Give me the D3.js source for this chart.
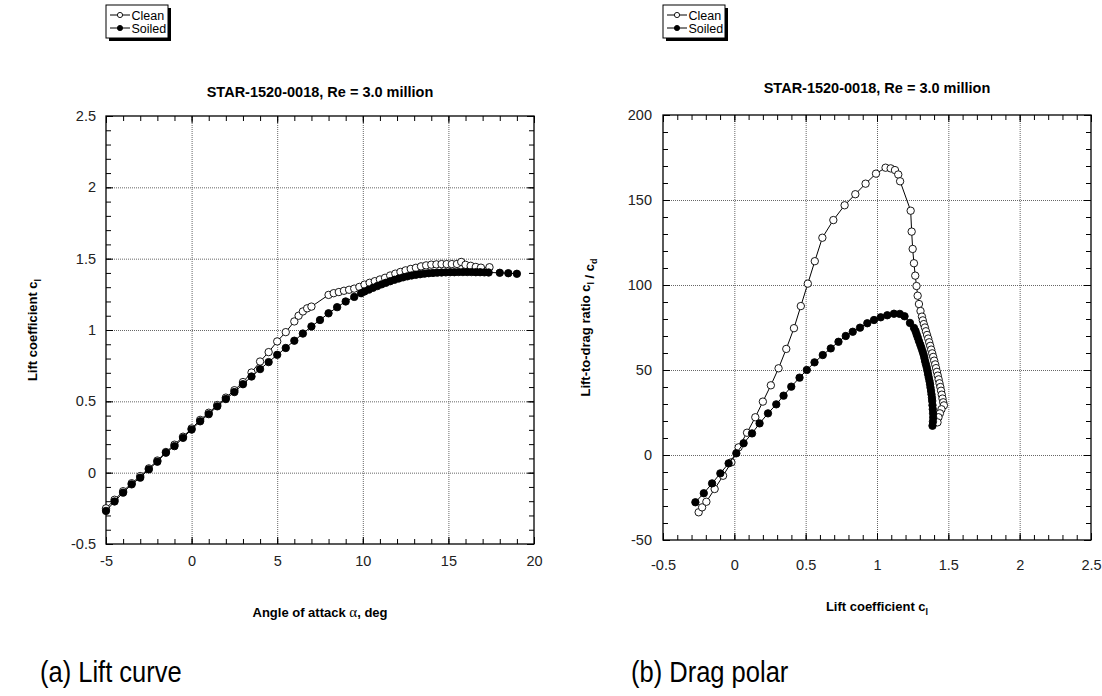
<!DOCTYPE html>
<html>
<head>
<meta charset="utf-8">
<script src="https://cdn.jsdelivr.net/npm/d3@7"></script>
<style>
body { margin: 0; background: #fff; }
text { font-family: "Liberation Sans", Arial, Helvetica, sans-serif; }
</style>
</head>
<body>
<script>
// Size of the whole picture
var width = 1102;
var height = 696;

// ---- Data ----
// (a) lift curve: [angle of attack, cl]
var liftClean = [
  [-5, -0.25], [-4.5, -0.19], [-4, -0.13], [-3.5, -0.074], [-3, -0.024], [-2.5, 0.03],
  [-2, 0.085], [-1.5, 0.145], [-1, 0.196], [-0.5, 0.252], [0, 0.31], [0.5, 0.37],
  [1, 0.42], [1.5, 0.474], [2, 0.526], [2.5, 0.578], [3, 0.635], [3.5, 0.702],
  [4, 0.779], [4.5, 0.845], [5, 0.92], [5.5, 0.985], [6, 1.06], [6.25, 1.1],
  [6.5, 1.13], [6.75, 1.152], [7, 1.164], [8, 1.246], [8.3, 1.258], [8.6, 1.266],
  [8.9, 1.275], [9.2, 1.282], [9.5, 1.29], [9.8, 1.302], [10.1, 1.318], [10.4, 1.331],
  [10.7, 1.342], [11, 1.354], [11.3, 1.366], [11.6, 1.382], [11.9, 1.395], [12.2, 1.407],
  [12.5, 1.418], [12.8, 1.428], [13.1, 1.436], [13.4, 1.446], [13.7, 1.453], [14, 1.458],
  [14.3, 1.46], [14.6, 1.462], [14.9, 1.462], [15.2, 1.462], [15.5, 1.463], [15.75, 1.477],
  [16, 1.457], [16.3, 1.45], [16.6, 1.442], [16.9, 1.437], [17.4, 1.44]
];
var liftSoiled = [
  [-5, -0.268], [-4.5, -0.202], [-4, -0.14], [-3.5, -0.082], [-3, -0.035], [-2.5, 0.023],
  [-2, 0.077], [-1.5, 0.14], [-1, 0.186], [-0.5, 0.244], [0, 0.302], [0.5, 0.36],
  [1, 0.41], [1.5, 0.465], [2, 0.516], [2.5, 0.565], [3, 0.62], [3.5, 0.674],
  [4, 0.726], [4.5, 0.775], [5, 0.826], [5.5, 0.874], [6, 0.925], [6.5, 0.975],
  [7, 1.025], [7.5, 1.07], [8, 1.117], [8.5, 1.16], [9, 1.2], [9.5, 1.232],
  [9.9, 1.258], [10.1, 1.27], [10.35, 1.283], [10.6, 1.296], [10.85, 1.308], [11.1, 1.32],
  [11.35, 1.331], [11.6, 1.342], [11.85, 1.352], [12.1, 1.361], [12.35, 1.369], [12.6, 1.376],
  [12.85, 1.382], [13.1, 1.387], [13.35, 1.391], [13.6, 1.395], [13.85, 1.398], [14.1, 1.4],
  [14.35, 1.402], [14.6, 1.403], [14.85, 1.404], [15.1, 1.405], [15.35, 1.405], [15.6, 1.406],
  [15.85, 1.406], [16.1, 1.406], [16.35, 1.406], [16.6, 1.405], [16.85, 1.405], [17.1, 1.404],
  [17.35, 1.403], [18, 1.401], [18.5, 1.398], [19, 1.394]
];

// (b) drag polar: [cl, cl/cd]
var polarClean = [
  [-0.25, -33.7], [-0.226, -30.8], [-0.196, -27.5], [-0.138, -20], [-0.079, -12.2], [-0.021, -4.3],
  [0.03, 4.5], [0.089, 13.1], [0.147, 22.2], [0.2, 31.4], [0.256, 41], [0.31, 51],
  [0.364, 62.4], [0.418, 74.6], [0.466, 87.6], [0.515, 100.8], [0.564, 114], [0.617, 127.8],
  [0.694, 138.2], [0.773, 146.9], [0.848, 153.4], [0.92, 159.6], [0.993, 165.5], [1.06, 169],
  [1.096, 168.6], [1.126, 167.6], [1.149, 165], [1.162, 161], [1.236, 143.7], [1.243, 131.4],
  [1.25, 121.2], [1.259, 112.8], [1.268, 105.5], [1.277, 99.4], [1.285, 93.7], [1.294, 88.8],
  [1.305, 84.7], [1.315, 81.4], [1.321, 79.2], [1.328, 77], [1.336, 75], [1.343, 72.8],
  [1.351, 70.6], [1.359, 68.5], [1.366, 66.3], [1.373, 64.2], [1.38, 62], [1.387, 59.8],
  [1.394, 57.7], [1.401, 55.5], [1.408, 53.3], [1.414, 51.1], [1.42, 48.9], [1.426, 46.7],
  [1.432, 44.5], [1.438, 42.2], [1.444, 40], [1.449, 37.8], [1.454, 35.5], [1.459, 33.2],
  [1.464, 31], [1.469, 29.2], [1.452, 26.9], [1.441, 24.5], [1.431, 22.2], [1.424, 19.2]
];
var polarSoiled = [
  [-0.273, -27.8], [-0.214, -22.5], [-0.156, -16.7], [-0.098, -10.8], [-0.04, -4.9], [0.014, 1],
  [0.065, 6.9], [0.124, 12.7], [0.177, 18.6], [0.236, 24.5], [0.294, 29.8], [0.345, 34.9],
  [0.399, 40.2], [0.457, 45.5], [0.508, 50], [0.562, 54.5], [0.62, 58.8], [0.676, 62.7],
  [0.73, 66.6], [0.781, 70], [0.83, 72.5], [0.881, 74.9], [0.932, 77.5], [0.979, 79.4],
  [1.026, 81], [1.072, 82.2], [1.119, 83.1], [1.16, 83], [1.193, 81.6], [1.231, 77.7],
  [1.259, 74.8], [1.27, 72.9], [1.278, 70.9], [1.286, 69], [1.294, 67], [1.303, 65],
  [1.311, 63.1], [1.319, 61.1], [1.326, 59.2], [1.332, 57.2], [1.337, 55.2], [1.343, 53.3],
  [1.349, 51.4], [1.354, 49.4], [1.358, 47.5], [1.363, 45.5], [1.368, 43.5], [1.372, 41.6],
  [1.375, 39.7], [1.379, 37.7], [1.382, 35.7], [1.385, 33.7], [1.387, 31.8], [1.389, 29.3],
  [1.391, 26.9], [1.393, 24.5], [1.394, 22.1], [1.392, 19.6], [1.389, 17.2]
];

// Tick values
var liftXTicks = [-5, 0, 5, 10, 15, 20];
var liftYTicks = [-0.5, 0, 0.5, 1, 1.5, 2, 2.5];
var polarXTicks = [-0.5, 0, 0.5, 1, 1.5, 2, 2.5];
var polarYTicks = [-50, 0, 50, 100, 150, 200];

var legendNames = ["Clean", "Soiled"];
var titleText = "STAR-1520-0018, Re = 3.0 million";

var svg = d3.select('body').append('svg')
  .attr('width', width)
  .attr('height', height);

// minor tick values between min and max with a given step
function minorTicks(lo, hi, step) {
  return d3.range(Math.round((hi - lo) / step) + 1).map(function (i) { return +(lo + i * step).toFixed(6); });
}

function styleAxis(sel, color) {
  sel.select('.domain').remove();
  sel.selectAll('line').attr('stroke', color || '#000');
}

function drawPanel(p) {
  var g = svg.append('g');
  var x = p.x, y = p.y;
  var xl = x.range()[0], xr = x.range()[1];
  var yb = y.range()[0], yt = y.range()[1];
  var w = xr - xl, h = yb - yt;

  // dotted grid at the inner major ticks
  var gx = g.append('g').attr('transform', 'translate(0,' + yb + ')')
    .call(d3.axisBottom(x).tickValues(p.xTicks.slice(1, -1)).tickSize(-h).tickFormat(''));
  var gy = g.append('g').attr('transform', 'translate(' + xl + ',0)')
    .call(d3.axisLeft(y).tickValues(p.yTicks.slice(1, -1)).tickSize(-w).tickFormat(''));
  [gx, gy].forEach(function (s) {
    styleAxis(s, '#666');
    s.selectAll('line').attr('stroke-dasharray', '1,1').attr('stroke-width', 1);
  });

  // minor ticks on all four sides, pointing inwards
  var xm = minorTicks(x.domain()[0], x.domain()[1], p.xMinor);
  var ym = minorTicks(y.domain()[0], y.domain()[1], p.yMinor);
  styleAxis(g.append('g').attr('transform', 'translate(0,' + yb + ')')
    .call(d3.axisBottom(x).tickValues(xm).tickSize(-5).tickFormat('')));
  styleAxis(g.append('g').attr('transform', 'translate(0,' + yt + ')')
    .call(d3.axisTop(x).tickValues(xm).tickSize(-5).tickFormat('')));
  styleAxis(g.append('g').attr('transform', 'translate(' + xl + ',0)')
    .call(d3.axisLeft(y).tickValues(ym).tickSize(-5).tickFormat('')));
  styleAxis(g.append('g').attr('transform', 'translate(' + xr + ',0)')
    .call(d3.axisRight(y).tickValues(ym).tickSize(-5).tickFormat('')));

  // major ticks with labels
  var ax = g.append('g').attr('transform', 'translate(0,' + yb + ')')
    .call(d3.axisBottom(x).tickValues(p.xTicks).tickSize(-7).tickPadding(p.xPad).tickFormat(String));
  var ay = g.append('g').attr('transform', 'translate(' + xl + ',0)')
    .call(d3.axisLeft(y).tickValues(p.yTicks).tickSize(-7).tickPadding(p.yPad).tickFormat(String));
  styleAxis(g.append('g').attr('transform', 'translate(0,' + yt + ')')
    .call(d3.axisTop(x).tickValues(p.xTicks).tickSize(-7).tickFormat('')));
  styleAxis(g.append('g').attr('transform', 'translate(' + xr + ',0)')
    .call(d3.axisRight(y).tickValues(p.yTicks).tickSize(-7).tickFormat('')));
  [ax, ay].forEach(function (s) {
    styleAxis(s);
    s.selectAll('text').attr('font-size', 14.5).attr('fill', '#222')
      .attr('font-family', '"Liberation Sans", Arial, sans-serif');
  });

  // frame
  g.append('rect')
    .attr('x', xl).attr('y', yt).attr('width', w).attr('height', h)
    .attr('fill', 'none').attr('stroke', '#000').attr('stroke-width', 1.3);

  // title
  g.append('text')
    .attr('x', (xl + xr) / 2).attr('y', p.titleY)
    .attr('text-anchor', 'middle').attr('font-weight', 'bold').attr('font-size', 14.5)
    .text(titleText);

  // axis titles
  var xt = g.append('text')
    .attr('x', (xl + xr) / 2).attr('y', p.xTitleY)
    .attr('text-anchor', 'middle').attr('font-weight', 'bold').attr('font-size', 13);
  p.xTitle(xt);
  var yt2 = g.append('text')
    .attr('transform', 'translate(' + p.yTitleX + ',' + (yt + yb) / 2 + ') rotate(-90)')
    .attr('text-anchor', 'middle').attr('font-weight', 'bold').attr('font-size', 13);
  p.yTitle(yt2);

  // series
  var line = d3.line()
    .x(function (d) { return x(d[0]); })
    .y(function (d) { return y(d[1]); });
  p.series.forEach(function (s) {
    g.append('path').datum(s.data)
      .attr('d', line).attr('fill', 'none').attr('stroke', '#000').attr('stroke-width', 1);
    g.append('g').selectAll('circle').data(s.data).enter().append('circle')
      .attr('cx', function (d) { return x(d[0]); })
      .attr('cy', function (d) { return y(d[1]); })
      .attr('r', 3.7)
      .attr('fill', s.fill).attr('stroke', '#000').attr('stroke-width', 0.9);
  });

  // legend box with drop shadow
  var lx = xl, ly = p.legendY, lw = 62, lh = 33;
  var lg = g.append('g');
  lg.append('rect').attr('x', lx + 3).attr('y', ly + 3).attr('width', lw).attr('height', lh).attr('fill', '#000');
  lg.append('rect').attr('x', lx).attr('y', ly).attr('width', lw).attr('height', lh)
    .attr('fill', '#fff').attr('stroke', '#000').attr('stroke-width', 1);
  var fills = ['#fff', '#000'];
  legendNames.forEach(function (name, i) {
    var cy = ly + 10 + i * 13;
    lg.append('line').attr('x1', lx + 4).attr('x2', lx + 24).attr('y1', cy).attr('y2', cy)
      .attr('stroke', '#000').attr('stroke-width', 1);
    lg.append('circle').attr('cx', lx + 14).attr('cy', cy).attr('r', 2.6)
      .attr('fill', fills[i]).attr('stroke', '#000').attr('stroke-width', 0.9);
    lg.append('text').attr('x', lx + 25.5).attr('y', cy + 4.5).attr('font-size', 12.5).text(name);
  });

  // caption below the panel, a condensed look made by squeezing the text
  g.append('text')
    .attr('transform', 'translate(' + p.captionX + ',682) scale(0.88,1)')
    .attr('font-size', 29)
    .text(p.caption);
}

// subscript helper
function sub(t, s) {
  t.append('tspan').attr('font-size', 9).attr('dy', 3.5).text(s);
  t.append('tspan').attr('dy', -3.5).text('');
}

drawPanel({
  x: d3.scaleLinear().domain([-5, 20]).range([106, 534]),
  y: d3.scaleLinear().domain([-0.5, 2.5]).range([544, 116]),
  xTicks: liftXTicks, yTicks: liftYTicks, xMinor: 1, yMinor: 0.1,
  xPad: 12, yPad: 10,
  titleY: 97, xTitleY: 617, yTitleX: 37, legendY: 5,
  xTitle: function (t) {
    t.append('tspan').text('Angle of attack ');
    t.append('tspan').attr('font-weight', 'normal').attr('font-size', 15)
      .attr('font-family', '"Liberation Serif", "DejaVu Serif", serif').text('α');
    t.append('tspan').text(', deg');
  },
  yTitle: function (t) {
    t.append('tspan').text('Lift coefficient c');
    sub(t, 'l');
  },
  series: [
    { data: liftClean, fill: '#fff' },
    { data: liftSoiled, fill: '#000' }
  ],
  caption: '(a) Lift curve', captionX: 40
});

drawPanel({
  x: d3.scaleLinear().domain([-0.5, 2.5]).range([663, 1091]),
  y: d3.scaleLinear().domain([-50, 200]).range([540, 115]),
  xTicks: polarXTicks, yTicks: polarYTicks, xMinor: 0.1, yMinor: 10,
  xPad: 20, yPad: 11,
  titleY: 93, xTitleY: 611, yTitleX: 590, legendY: 5,
  xTitle: function (t) {
    t.append('tspan').text('Lift coefficient c');
    sub(t, 'l');
  },
  yTitle: function (t) {
    t.append('tspan').text('Lift-to-drag ratio c');
    sub(t, 'l');
    t.append('tspan').text(' / c');
    sub(t, 'd');
  },
  series: [
    { data: polarClean, fill: '#fff' },
    { data: polarSoiled, fill: '#000' }
  ],
  caption: '(b) Drag polar', captionX: 631
});
</script>
</body>
</html>
